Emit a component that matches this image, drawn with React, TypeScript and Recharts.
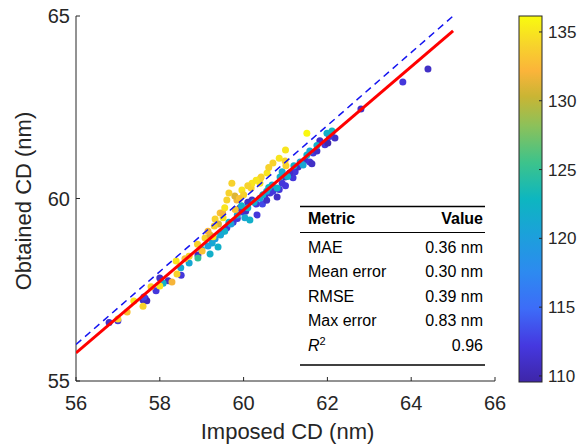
import React from 'react';
import { ScatterChart, Scatter, XAxis, YAxis, Cell } from 'recharts';

// ---- data ----
const X_TICKS = [56, 58, 60, 62, 64, 66];
const Y_TICKS = [55, 60, 65];
const CB_TICKS = [110, 115, 120, 125, 130, 135];
const CB_MIN = 109.56;
const CB_MAX = 136.16;

// [imposed CD, obtained CD, color value]
const PURPLE: [number, number, number][] = [
  [56.79, 56.6, 111], [57.0, 56.65, 112], [57.6, 57.22, 111], [57.65, 57.27, 112],
  [57.69, 57.2, 110.5], [57.62, 57.3, 113], [57.91, 57.47, 112], [58.0, 57.82, 111],
  [58.51, 57.9, 112], [58.91, 58.45, 111], [59.6, 59.2, 112], [59.91, 59.74, 111],
  [59.96, 59.63, 112], [60.2, 59.96, 111], [60.32, 59.55, 112], [60.51, 60.1, 111],
  [60.63, 60.15, 112], [60.8, 60.04, 111], [60.92, 60.42, 112], [60.99, 60.59, 111],
  [61.23, 60.73, 112], [61.3, 60.86, 111], [61.18, 60.57, 112], [61.47, 61.05, 111],
  [61.58, 61.0, 112], [61.63, 60.95, 111], [61.66, 61.25, 112], [61.82, 61.58, 111],
  [61.94, 61.47, 112], [62.01, 61.52, 110], [62.18, 61.66, 111], [62.11, 61.82, 112],
  [62.8, 62.45, 111], [63.8, 63.19, 112], [64.4, 63.55, 111], [61.0, 60.35, 112],
  [60.45, 59.85, 113], [59.75, 59.35, 112], [60.1, 59.9, 111], [60.85, 60.25, 112],
  [59.5, 59.1, 111], [59.85, 59.45, 112], [60.05, 59.65, 111], [60.3, 59.85, 112],
  [60.55, 59.95, 111], [60.7, 60.2, 112], [61.1, 60.7, 111], [61.4, 60.95, 112],
  [61.75, 61.3, 111], [62.05, 61.7, 112], [58.2, 57.75, 111],
];

const TEAL: [number, number, number][] = [
  [58.08, 57.68, 122], [58.7, 58.23, 121], [58.91, 58.37, 125], [59.2, 58.48, 122],
  [59.25, 58.78, 121], [59.39, 58.67, 122], [59.32, 58.9, 120], [59.55, 59.1, 122],
  [60.03, 59.47, 121], [60.15, 59.41, 122], [60.39, 60.01, 121], [60.46, 60.1, 122],
  [60.68, 60.37, 121], [60.8, 60.29, 122], [60.92, 60.73, 121], [60.87, 60.59, 122],
  [61.42, 60.92, 121], [61.51, 61.19, 122], [61.58, 61.3, 121], [61.99, 61.79, 122],
  [62.11, 61.85, 123], [59.7, 59.3, 120], [59.0, 58.6, 121], [61.2, 60.9, 122],
  [59.95, 59.8, 122], [59.45, 59.0, 121], [59.65, 59.35, 122], [59.85, 59.55, 121],
  [60.25, 59.9, 122], [60.55, 60.2, 121], [60.6, 60.3, 123], [61.05, 60.6, 122],
  [61.35, 61.0, 121], [61.75, 61.45, 122], [59.15, 58.7, 120], [58.5, 58.1, 121],
  [60.1, 59.75, 122],
];

const YELLOW: [number, number, number][] = [
  [57.0, 56.7, 134], [57.22, 56.89, 133], [57.38, 57.19, 135], [57.6, 57.05, 134],
  [57.79, 57.58, 134], [58.0, 57.6, 135], [58.29, 57.71, 132], [58.41, 57.93, 134],
  [58.39, 58.29, 135], [58.7, 58.42, 134], [59.01, 58.56, 133], [59.08, 58.92, 134],
  [59.27, 58.95, 135], [59.32, 59.44, 134], [59.44, 59.6, 133], [59.51, 59.47, 135],
  [59.6, 59.96, 134], [59.84, 59.96, 132], [59.72, 60.42, 134], [59.96, 60.23, 135],
  [59.79, 60.07, 131], [60.18, 60.29, 134], [60.39, 60.42, 135], [60.42, 60.59, 134],
  [60.56, 60.7, 135], [60.7, 60.97, 134], [61.0, 61.33, 135], [60.99, 61.03, 134],
  [61.01, 60.9, 134], [61.51, 61.79, 136], [59.5, 59.6, 132], [59.4, 59.3, 131],
  [59.8, 59.7, 133], [60.0, 60.1, 134], [60.4, 60.55, 134], [59.2, 59.0, 131],
  [60.2, 60.42, 135], [59.3, 59.25, 134], [59.55, 59.75, 135], [59.65, 60.15, 134],
  [59.9, 60.0, 133], [60.1, 60.35, 134], [60.3, 60.5, 135], [60.6, 60.85, 134],
  [60.85, 61.1, 135], [58.6, 58.35, 133], [58.9, 58.75, 134], [59.15, 59.1, 132],
];

const IDENTITY_X = [56, 65];
const IDENTITY_Y = [56, 65];
const FIT_X = [56, 65];
const FIT_Y = [55.77, 64.59];

const METRIC_NAMES = ['MAE', 'Mean error', 'RMSE', 'Max error'];
const METRIC_VALUES = ['0.36 nm', '0.30 nm', '0.39 nm', '0.83 nm'];
const R2_VALUE = '0.96';

// ---- colormap (parula-like) ----
const CMAP: [number, string][] = [
  [0.0, '#3E26A8'], [0.1, '#4538E0'], [0.2, '#3D6CF8'], [0.3, '#2D8AF0'],
  [0.4, '#1CA0DB'], [0.5, '#0DB6C0'], [0.6, '#3DC38B'], [0.7, '#8CC15A'],
  [0.78, '#C9B534'], [0.85, '#FBB43A'], [0.92, '#F7D32C'], [1.0, '#F9FB0E'],
];

function hexToRgb(h: string) {
  return [parseInt(h.slice(1, 3), 16), parseInt(h.slice(3, 5), 16), parseInt(h.slice(5, 7), 16)];
}
function colorOf(v: number) {
  const t = Math.max(0, Math.min(1, (v - CB_MIN) / (CB_MAX - CB_MIN)));
  for (let i = 0; i < CMAP.length - 1; i++) {
    const [t0, c0] = CMAP[i];
    const [t1, c1] = CMAP[i + 1];
    if (t <= t1) {
      const f = (t - t0) / (t1 - t0);
      const a = hexToRgb(c0), b = hexToRgb(c1);
      const r = a.map((x, k) => Math.round(x + (b[k] - x) * f));
      return `rgb(${r[0]},${r[1]},${r[2]})`;
    }
  }
  return CMAP[CMAP.length - 1][1];
}

const points = [...PURPLE, ...TEAL, ...YELLOW].map(([x, y, c]) => ({ x, y, c }));
const identity = IDENTITY_X.map((x, i) => ({ x, y: IDENTITY_Y[i] }));
const fit = FIT_X.map((x, i) => ({ x, y: FIT_Y[i] }));

const FONT = '"Liberation Sans", Arial, Helvetica, sans-serif';
const AX = '#262626';

const Dot = (props: any) => {
  const { cx, cy, payload } = props;
  if (cx == null || cy == null) return null;
  return <circle cx={cx} cy={cy} r={3.5} fill={colorOf(payload.c)} />;
};
const NoDot = () => <g />;

// colorbar geometry
const CB_X = 519, CB_Y = 16, CB_W = 23, CB_H = 366;
const cbY = (v: number) => CB_Y + CB_H - ((v - CB_MIN) / (CB_MAX - CB_MIN)) * CB_H;

export default function App() {
  return (
    <div style={{ position: 'absolute', left: 0, top: 0, width: 580, height: 448, background: '#fff', fontFamily: FONT }}>
      <ScatterChart width={580} height={448} margin={{ top: 16, right: 85, bottom: 27, left: 26 }}>
        <XAxis
          type="number"
          dataKey="x"
          domain={[56, 66]}
          ticks={X_TICKS}
          height={40}
          tickSize={-4}
          tickMargin={19}
          allowDataOverflow
          axisLine={{ stroke: AX, strokeWidth: 1 }}
          tickLine={{ stroke: AX, strokeWidth: 1 }}
          tick={{ fill: AX, fontSize: 20, fontFamily: FONT }}
          interval={0}
        />
        <YAxis
          type="number"
          dataKey="y"
          domain={[55, 65]}
          ticks={Y_TICKS}
          width={50}
          tickSize={-4}
          tickMargin={10}
          allowDataOverflow
          axisLine={{ stroke: AX, strokeWidth: 1 }}
          tickLine={{ stroke: AX, strokeWidth: 1 }}
          tick={{ fill: AX, fontSize: 20, fontFamily: FONT }}
          interval={0}
        />
        <Scatter data={points} isAnimationActive={false} shape={Dot}>
          {points.map((p, i) => (
            <Cell key={i} fill={colorOf(p.c)} />
          ))}
        </Scatter>
        <Scatter
          data={identity}
          isAnimationActive={false}
          shape={NoDot}
          line={{ stroke: '#1414F0', strokeWidth: 1.5, strokeDasharray: '7 5' }}
          lineType="joint"
        />
        <Scatter
          data={fit}
          isAnimationActive={false}
          shape={NoDot}
          line={{ stroke: '#FF0000', strokeWidth: 3 }}
          lineType="joint"
        />
      </ScatterChart>

      <svg width={580} height={448} style={{ position: 'absolute', left: 0, top: 0, pointerEvents: 'none' }}>
        <defs>
          <linearGradient id="cbgrad" x1="0" y1="1" x2="0" y2="0">
            {CMAP.map(([t, c], i) => (
              <stop key={i} offset={t} stopColor={c} />
            ))}
          </linearGradient>
        </defs>
        {/* axis titles */}
        <text x={287.5} y={439} textAnchor="middle" fontSize={22} fill={AX} fontFamily={FONT}>
          Imposed CD (nm)
        </text>
        <text
          x={31}
          y={201}
          textAnchor="middle"
          fontSize={22}
          fill={AX}
          fontFamily={FONT}
          transform="rotate(-90 31 201)"
        >
          Obtained CD (nm)
        </text>

        {/* table */}
        <g fontFamily={FONT} fill="#000">
          <line x1={300} x2={485} y1={206.5} y2={206.5} stroke="#000" strokeWidth={1.5} />
          <text x={308} y={224} fontSize={16} fontWeight="bold">Metric</text>
          <text x={483} y={224} fontSize={16} fontWeight="bold" textAnchor="end">Value</text>
          <line x1={300} x2={485} y1={232.5} y2={232.5} stroke="#000" strokeWidth={1} />
          {METRIC_NAMES.map((m, i) => (
            <g key={m}>
              <text x={308} y={252.5 + i * 24.6} fontSize={16}>{m}</text>
              <text x={483} y={252.5 + i * 24.6} fontSize={16} textAnchor="end">{METRIC_VALUES[i]}</text>
            </g>
          ))}
          <text x={308} y={351} fontSize={16}>
            <tspan fontStyle="italic">R</tspan>
            <tspan fontSize={11} dy={-6}>2</tspan>
          </text>
          <text x={483} y={351} fontSize={16} textAnchor="end">{R2_VALUE}</text>
          <line x1={300} x2={485} y1={365} y2={365} stroke="#000" strokeWidth={1.5} />
        </g>

        {/* colorbar */}
        <rect x={CB_X} y={CB_Y} width={CB_W} height={CB_H} fill="url(#cbgrad)" stroke={AX} strokeWidth={1} />
        {CB_TICKS.map((t) => (
          <g key={t}>
            <line x1={CB_X + CB_W - 3} x2={CB_X + CB_W} y1={cbY(t)} y2={cbY(t)} stroke={AX} strokeWidth={1} />
            <text x={548} y={cbY(t)} dy="0.35em" fontSize={17} fill={AX} fontFamily={FONT}>
              {t}
            </text>
          </g>
        ))}
      </svg>
    </div>
  );
}
